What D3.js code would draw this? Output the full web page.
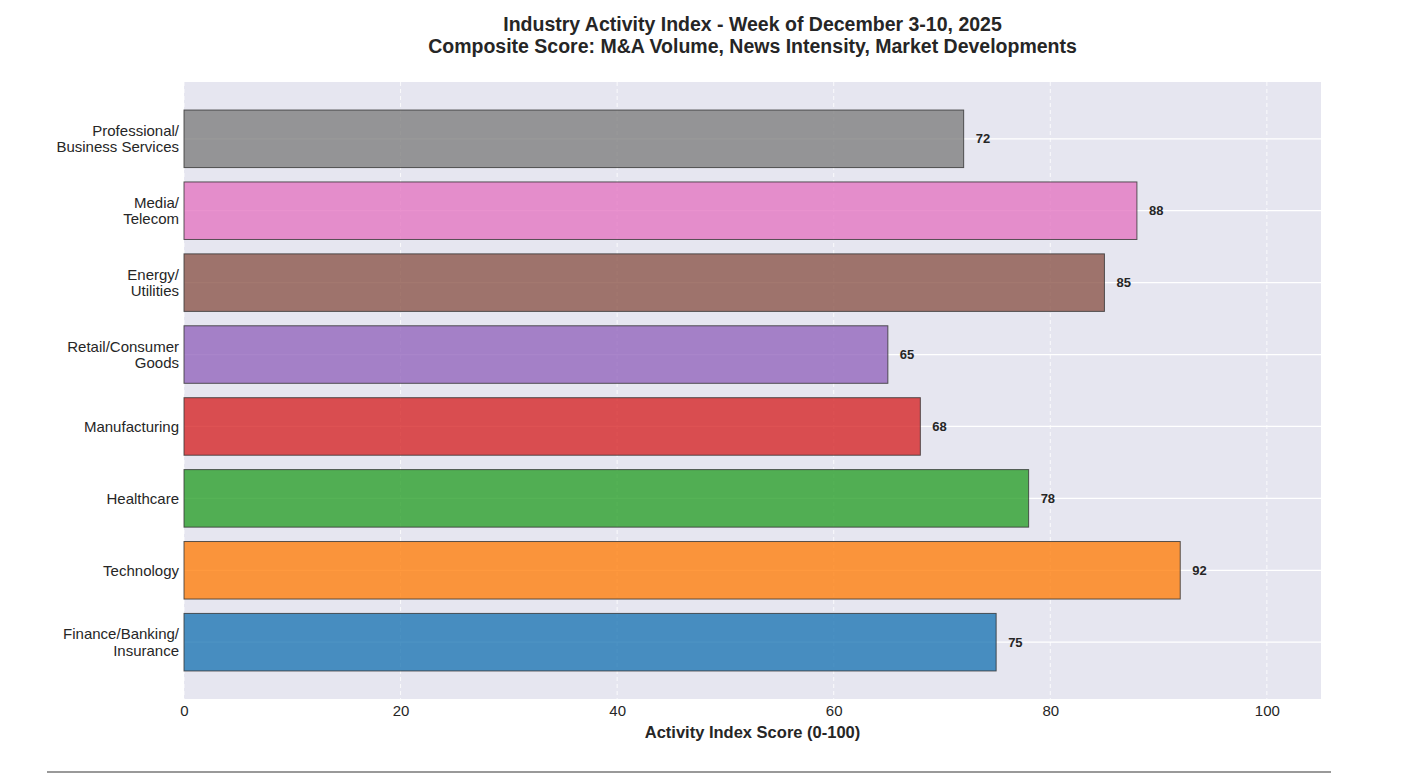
<!DOCTYPE html>
<html>
<head>
<meta charset="utf-8">
<script src="https://cdn.jsdelivr.net/npm/d3@7"></script>
<style>
  body { margin: 0; background: #fff; }
  svg { font-family: "Liberation Sans", Arial, sans-serif; }
</style>
</head>
<body>
<div id="chart"></div>
<script>
// bottom to top
const industries = [
  "Finance/Banking/\nInsurance",
  "Technology",
  "Healthcare",
  "Manufacturing",
  "Retail/Consumer\nGoods",
  "Energy/\nUtilities",
  "Media/\nTelecom",
  "Professional/\nBusiness Services"
];
const scores = [75, 92, 78, 68, 65, 85, 88, 72];
const barColors = ["#1f77b4", "#ff7f0e", "#2ca02c", "#d62728", "#9467bd", "#8c564b", "#e377c2", "#7f7f7f"];
const xTicks = [0, 20, 40, 60, 80, 100];

const width = 1422, height = 774;
const margin = { top: 82, right: 101, bottom: 75, left: 184 };

const svg = d3.select("#chart").append("svg")
  .attr("width", width)
  .attr("height", height);

const x = d3.scaleLinear()
  .domain([0, 105])
  .range([margin.left, width - margin.right]);

const y = d3.scaleLinear()
  .domain([-0.79, industries.length - 1 + 0.79])
  .range([height - margin.bottom, margin.top]);

const barH = (y(0) - y(1)) * 0.8;

svg.append("rect")
  .attr("x", margin.left)
  .attr("y", margin.top)
  .attr("width", width - margin.right - margin.left)
  .attr("height", height - margin.bottom - margin.top)
  .attr("fill", "#e6e6f0");

// grid
svg.append("g")
  .selectAll("line")
  .data(xTicks)
  .join("line")
  .attr("x1", d => x(d)).attr("x2", d => x(d))
  .attr("y1", margin.top).attr("y2", height - margin.bottom)
  .attr("stroke", "#fff")
  .attr("stroke-opacity", 0.8)
  .attr("stroke-dasharray", "4,3");

svg.append("g")
  .selectAll("line")
  .data(industries.map((_, i) => i))
  .join("line")
  .attr("x1", margin.left).attr("x2", width - margin.right)
  .attr("y1", d => y(d)).attr("y2", d => y(d))
  .attr("stroke", "#fff")
  .attr("stroke-width", 1.2);

// bars
svg.append("g")
  .selectAll("rect")
  .data(scores)
  .join("rect")
  .attr("x", x(0))
  .attr("y", (_, i) => y(i) - barH / 2)
  .attr("width", d => x(d) - x(0))
  .attr("height", barH)
  .attr("fill", (_, i) => barColors[i])
  .attr("fill-opacity", 0.8)
  .attr("stroke", "#333")
  .attr("stroke-opacity", 0.8)
  .attr("stroke-width", 1);

// value labels
svg.append("g")
  .selectAll("text")
  .data(scores)
  .join("text")
  .attr("x", d => x(d) + 12)
  .attr("y", (_, i) => y(i))
  .attr("dy", "0.35em")
  .attr("font-size", 13)
  .attr("font-weight", "bold")
  .attr("fill", "#262626")
  .text(d => d);

// y labels
const yl = svg.append("g")
  .selectAll("text")
  .data(industries)
  .join("text")
  .attr("text-anchor", "end")
  .attr("font-size", 15)
  .attr("fill", "#262626")
  .attr("transform", (_, i) => `translate(${margin.left - 5},${y(i)})`);

yl.each(function (d) {
  const lines = d.split("\n");
  const t = d3.select(this);
  lines.forEach((ln, k) => {
    t.append("tspan")
      .attr("x", 0)
      .attr("y", (k - (lines.length - 1) / 2) * 16.5)
      .attr("dy", "0.35em")
      .text(ln);
  });
});

// x axis
const xAxis = svg.append("g")
  .attr("transform", `translate(0,${height - margin.bottom})`)
  .call(d3.axisBottom(x).tickValues(xTicks).tickSize(0).tickPadding(6));
xAxis.select(".domain").remove();
xAxis.selectAll("text")
  .attr("font-size", 15)
  .attr("font-family", "Liberation Sans, Arial, sans-serif")
  .attr("fill", "#262626");

svg.append("text")
  .attr("x", (margin.left + width - margin.right) / 2)
  .attr("y", 738)
  .attr("text-anchor", "middle")
  .attr("font-size", 16.5)
  .attr("font-weight", "bold")
  .attr("fill", "#262626")
  .text("Activity Index Score (0-100)");

// title
const title = svg.append("text")
  .attr("text-anchor", "middle")
  .attr("font-size", 19.5)
  .attr("font-weight", "bold")
  .attr("fill", "#262626");
title.append("tspan")
  .attr("x", (margin.left + width - margin.right) / 2)
  .attr("y", 31)
  .text("Industry Activity Index - Week of December 3-10, 2025");
title.append("tspan")
  .attr("x", (margin.left + width - margin.right) / 2)
  .attr("y", 53)
  .text("Composite Score: M&A Volume, News Intensity, Market Developments");

// bottom rule
svg.append("line")
  .attr("x1", 47).attr("x2", 1331)
  .attr("y1", 772).attr("y2", 772)
  .attr("stroke", "#999")
  .attr("stroke-width", 2);
</script>
</body>
</html>
